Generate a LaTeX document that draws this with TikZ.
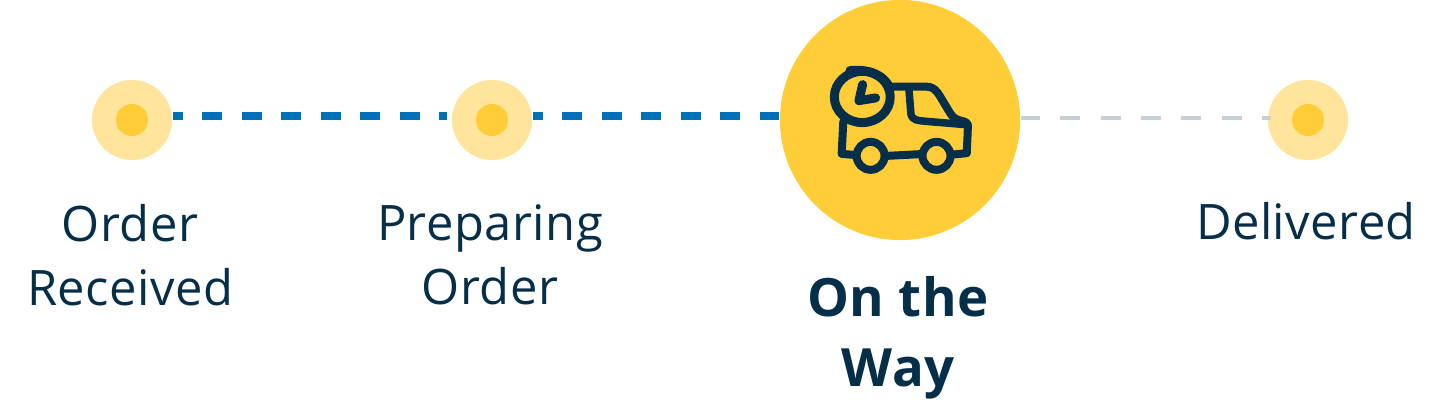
\documentclass[tikz,border=0pt]{standalone}
\usepackage{fontspec}
\setmainfont[LetterSpace=1]{Open Sans}
\usepackage{xcolor}
\definecolor{navy}{HTML}{052E48}
\definecolor{sun}{HTML}{FFCD38}
\definecolor{palesun}{HTML}{FFE49B}
\definecolor{route}{HTML}{0071B9}
\definecolor{todo}{HTML}{C6CFD3}
\tikzset{halo/.style={circle,fill=palesun,minimum size=0.8cm,inner sep=0pt},
  dot/.style={circle,fill=sun,minimum size=0.32cm,inner sep=0pt},
  big/.style={circle,fill=sun,minimum size=2.4cm,inner sep=0pt},
  lbl/.style={text=navy,align=center,font=\fontsize{13.9}{18.2}\selectfont},
  boldlbl/.style={text=navy,align=center,font=\fontsize{15}{20}\selectfont\bfseries},
  ink/.style={draw=navy,line width=0.09cm,line cap=round,line join=round},
  routeline/.style={route,line width=0.08cm,dash pattern=on 0.2cm off 0.195cm,dash phase=0.1cm},
  todoline/.style={todo,line width=0.04cm,dash pattern=on 0.2cm off 0.204cm,dash phase=0.01cm}}

\begin{document}
\begin{tikzpicture}[x=0.01cm,y=-0.01cm]
    \useasboundingbox (0,0) rectangle (1436,404);

    \node[halo] (order) at (132,120) {};
    \node[dot] (orderdot) at (132,120) {};
    \node[halo] (prep) at (492,120) {};
    \node[dot] (prepdot) at (492,120) {};
    \node[big] (way) at (900,120) {};
    \node[halo] (done) at (1308,120) {};
    \node[dot] (donedot) at (1308,120) {};

    \draw [routeline] ([yshift=0.04cm]order.east) -- ([xshift=-0.04cm,yshift=0.04cm]prep.west);
    \draw [routeline] ([yshift=0.04cm]prep.east) -- ([yshift=0.04cm]way.west);
    \draw [todoline] ([yshift=0.02cm]way.east) -- ([xshift=0.04cm,yshift=0.02cm]done.west);

    % truck, traced in thirds of a pixel
    \begin{scope}[shift={(825,60)},x=0.00333cm,y=-0.00333cm]
    \draw[ink] (112,111) ellipse [x radius=84,y radius=77];
    \draw[ink] (75,32) .. controls (110,28) and (165,32) .. (192,78);
    \draw[ink] (113,74) -- (102,122) -- (152,114);
    \draw[ink,line width=0.08cm] (205,80) -- (305,80) .. controls (325,80) and (335,92) .. (345,108) -- (375,158) .. controls (385,175) and (395,180) .. (415,184) .. controls (430,188) and (431,195) .. (429,210) -- (426,280) -- (385,284);
    \draw[ink,line width=0.08cm] (55,185) -- (50,282) -- (85,285);
    \draw[ink,line width=0.08cm] (188,288) -- (285,283);
    \draw[ink,line width=0.075cm] (252,85) -- (258,160) .. controls (260,182) and (280,182) .. (300,184) -- (420,194);
    \draw[ink,line width=0.08cm] (137,288) circle (42);
    \draw[ink,line width=0.08cm] (335,288) circle (42);
    \end{scope}

    \node[lbl] (orderlbl) at (130,255) {Order\\Received};
    \node[lbl] (preplbl) at (490,255) {Preparing\\Order};
    \node[boldlbl] (waylbl) at (898,338) {On the\\Way};
    \node[lbl] (donelbl) at (1306,221) {Delivered};
\end{tikzpicture}
\end{document}
